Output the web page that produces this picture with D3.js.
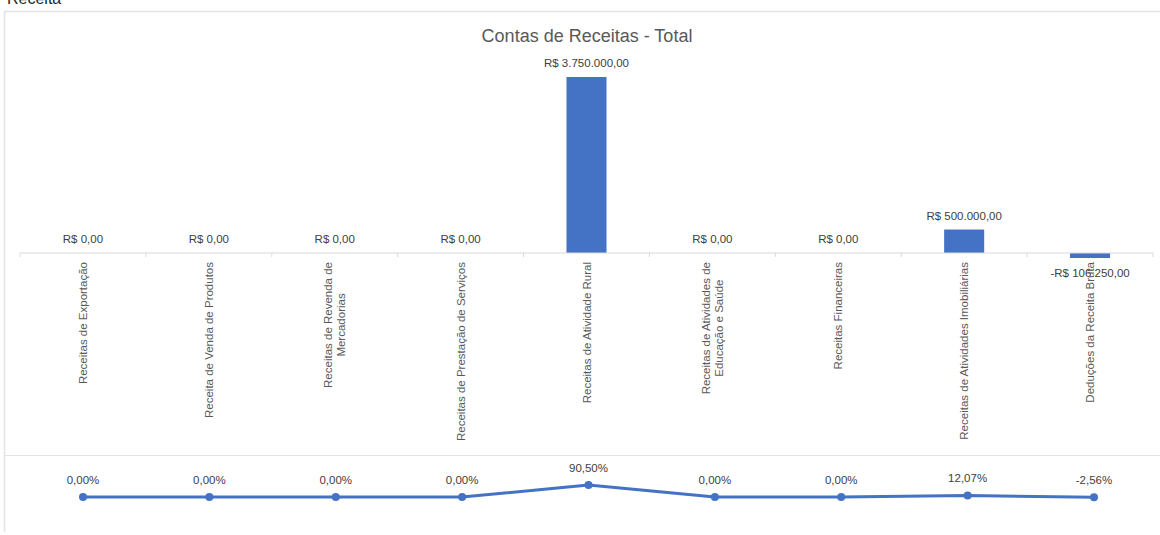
<!DOCTYPE html>
<html>
<head>
<meta charset="utf-8">
<script src="https://cdn.jsdelivr.net/npm/d3@7"></script>
<style>
  html, body { margin: 0; padding: 0; background: #fff; }
  svg { display: block; font-family: "Liberation Sans", Arial, sans-serif; }
</style>
</head>
<body>
<svg id="chart" width="1160" height="535"></svg>
<script>
const categories = [
  "Receitas de Exportação",
  "Receita de Venda de Produtos",
  "Receitas de Revenda de\nMercadorias",
  "Receitas de Prestação de Serviços",
  "Receitas de Atividade Rural",
  "Receitas de Atividades de\nEducação e Saúde",
  "Receitas Financeiras",
  "Receitas de Atividades Imobiliárias",
  "Deduções da Receita Bruta"
];
const values = [0, 0, 0, 0, 3750000, 0, 0, 500000, -106250];
const shares = [0, 0, 0, 0, 90.50, 0, 0, 12.07, -2.56];
const valueLabels = ["R$ 0,00","R$ 0,00","R$ 0,00","R$ 0,00","R$ 3.750.000,00","R$ 0,00","R$ 0,00","R$ 500.000,00","-R$ 106.250,00"];
const shareLabels = ["0,00%","0,00%","0,00%","0,00%","90,50%","0,00%","0,00%","12,07%","-2,56%"];
const pageTitle = "Receita";
const chartTitle = "Contas de Receitas - Total";

const svg = d3.select("#chart");
const blue = "#4472C4";

// page header and frame
svg.append("text").attr("x", 7).attr("y", 4).attr("font-size", 16).attr("fill", "#262626").text(pageTitle);
svg.append("line").attr("x1", 4).attr("x2", 1160).attr("y1", 11.5).attr("y2", 11.5).attr("stroke", "#e3e3e3").attr("stroke-width", 1.5);
svg.append("line").attr("x1", 4.5).attr("x2", 4.5).attr("y1", 11).attr("y2", 532).attr("stroke", "#e3e3e3").attr("stroke-width", 1.5);
svg.append("line").attr("x1", 4).attr("x2", 1160).attr("y1", 455.5).attr("y2", 455.5).attr("stroke", "#e3e3e3").attr("stroke-width", 1.2);

// scales
const x = d3.scaleBand().domain(categories).range([20, 1153]).padding(0);
const bw = x.bandwidth();
const barW = bw * 0.318;
const y = d3.scaleLinear().domain([0, 3750000]).range([253, 77]);

// title
svg.append("text").attr("x", 587).attr("y", 42).attr("text-anchor", "middle")
  .attr("font-size", 18).attr("fill", "#595959").text(chartTitle);

// bars
svg.append("g").selectAll("rect").data(values).join("rect")
  .attr("x", (d, i) => x(categories[i]) + bw / 2 - barW / 2)
  .attr("y", d => Math.min(y(d), y(0)))
  .attr("width", barW)
  .attr("height", d => Math.abs(y(d) - y(0)))
  .attr("fill", blue);

// axis line and ticks
const axisG = svg.append("g").attr("transform", `translate(0,${y(0)})`);
axisG.append("line").attr("x1", 20).attr("x2", 1153).attr("y1", 0).attr("y2", 0)
  .attr("stroke", "#d9d9d9").attr("stroke-width", 1.2);
const tickPos = categories.map(c => x(c)).concat([x(categories[categories.length - 1]) + bw]);
axisG.selectAll("line.tick").data(tickPos).join("line").attr("class", "tick")
  .attr("x1", d => d).attr("x2", d => d).attr("y1", 0).attr("y2", 4)
  .attr("stroke", "#d9d9d9").attr("stroke-width", 1);

// value labels
svg.append("g").selectAll("text").data(values).join("text")
  .attr("x", (d, i) => x(categories[i]) + bw / 2)
  .attr("y", d => d >= 0 ? y(d) - 10 : y(d) + 19)
  .attr("text-anchor", "middle").attr("font-size", 11.5).attr("fill", "#404040")
  .text((d, i) => valueLabels[i]);

// category labels (rotated)
const catG = svg.append("g");
categories.forEach((c, i) => {
  const lines = c.split("\n");
  const g = catG.append("g").attr("transform", `translate(${x(c) + bw / 2},0) rotate(-90)`);
  const t = g.append("text").attr("font-size", 11.5).attr("fill", "#595959").attr("text-anchor", "middle");
  const lh = 13;
  const spans = lines.map((ln, j) => t.append("tspan")
    .attr("y", (j - (lines.length - 1) / 2) * lh)
    .attr("dy", "0.35em").text(ln));
  let maxLen = 0;
  spans.forEach(s => { maxLen = Math.max(maxLen, s.node().getComputedTextLength()); });
  spans.forEach(s => s.attr("x", -(262 + maxLen / 2)));
});

// line chart
const xl = d3.scalePoint().domain(categories).range([83, 1094]);
const yl = d3.scaleLinear().domain([0, 90.5]).range([497, 485]);
const pts = shares.map((s, i) => [xl(categories[i]), yl(s)]);
svg.append("path").attr("d", d3.line()(pts)).attr("fill", "none")
  .attr("stroke", blue).attr("stroke-width", 3).attr("stroke-linejoin", "round");
svg.append("g").selectAll("circle").data(pts).join("circle")
  .attr("cx", d => d[0]).attr("cy", d => d[1]).attr("r", 4).attr("fill", blue);
svg.append("g").selectAll("text").data(shares).join("text")
  .attr("x", (d, i) => pts[i][0])
  .attr("y", (d, i) => pts[i][1] - 13)
  .attr("text-anchor", "middle").attr("font-size", 11.5).attr("fill", "#404040")
  .text((d, i) => shareLabels[i]);
</script>
</body>
</html>
